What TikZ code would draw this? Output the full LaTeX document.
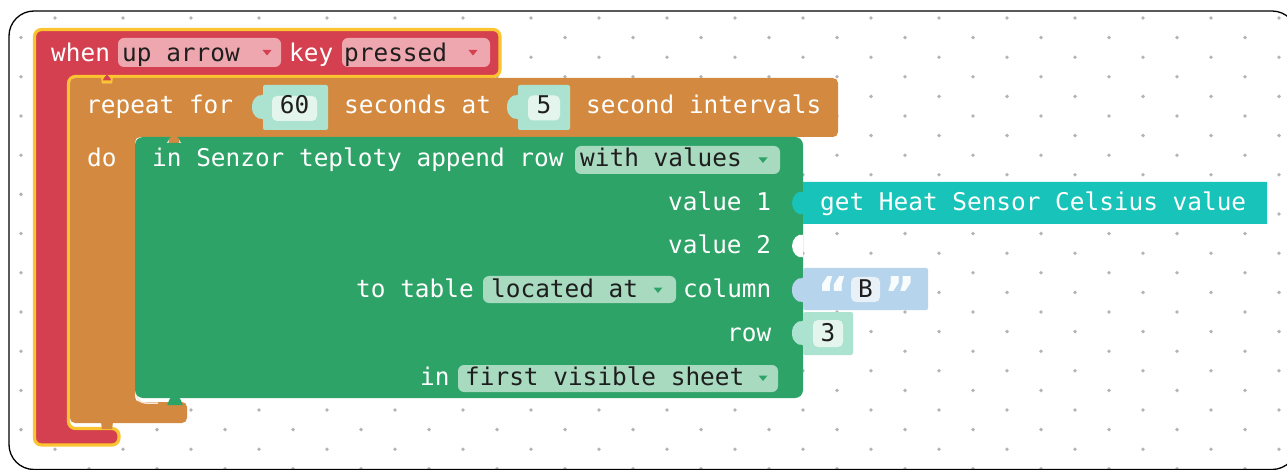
\documentclass[tikz,border=0pt]{standalone}
\usepackage{fontspec}
\newfontfamily\blockmono{DejaVu Sans Mono}
\newfontfamily\quotesans{DejaVu Sans}

\definecolor{evred}{HTML}{D4404F}
\definecolor{hilite}{HTML}{FCC430}
\definecolor{looporange}{HTML}{D38A40}
\definecolor{sheetgreen}{HTML}{2DA367}
\definecolor{pillpink}{HTML}{EFA7AF}
\definecolor{pillgreen}{HTML}{A8DAC0}
\definecolor{ink}{HTML}{1E1E1E}
\definecolor{slotmint}{HTML}{ABE3D0}
\definecolor{boxmint}{HTML}{E4F5EE}
\definecolor{sensorteal}{HTML}{18C4B9}
\definecolor{strblue}{HTML}{B6D4EC}
\definecolor{boxblue}{HTML}{E8F0F8}
\definecolor{dotgray}{HTML}{B4B4B4}

% value block with an output tab on its left edge:
% [fill options] {left} {top} {right} {bottom} {tab centre y}
\newcommand{\valblock}[6][]{%
  \fill[#1] (#2,#3) -- (#4,#3) -- (#4,#5) -- (#2,#5) -- (#2,#6+11)
    .. controls (#2-5,#6+13) and (#2-11,#6+7) .. (#2-11,#6)
    .. controls (#2-11,#6-7) and (#2-5,#6-13) .. (#2,#6-11) -- cycle;}
% an empty input socket on a block's right edge
\newcommand{\socket}[3][]{%
  \fill[#1] (#2,#3+11)
    .. controls (#2-5,#3+13) and (#2-11,#3+7) .. (#2-11,#3)
    .. controls (#2-11,#3-7) and (#2-5,#3-13) .. (#2,#3-11) -- cycle;}
% small dropdown arrow
\newcommand{\ddarrow}[3]{%
  \fill[#1] (#2-4.5,#3-2.5) -- (#2+4.5,#3-2.5) -- (#2,#3+3) -- cycle;}

\tikzset{
  lbl/.style={font=\blockmono\fontsize{24.4}{28}\selectfont, text=white,
    anchor=base west, inner sep=0pt},
  fieldtxt/.style={lbl, text=ink},
  numtxt/.style={lbl, text=ink, anchor=base},
  pill/.style={rounded corners=6pt},
  quotemark/.style={font=\quotesans\bfseries\fontsize{48}{48}\selectfont,
    text=white!92!strblue, inner sep=0pt, anchor=north},
}

\begin{document}
\begin{tikzpicture}[x=1pt,y=-1pt]
\useasboundingbox (0,0) rectangle (1287,470);
\clip (0,0) rectangle (1287,470);
\fill[white] (0,0) rectangle (1287,470);

% workspace grid
\begin{scope}
  \clip[rounded corners=25pt] (9,11) rectangle (1297,469.5);
  \foreach \j in {0,...,23}{
    \pgfmathsetmacro\yy{18+19.6*\j}
    \pgfmathsetmacro\xs{ifthenelse(mod(\j,2)==0,55,21)}
    \foreach \k in {0,...,18}{
      \fill[dotgray] (\xs+68*\k,\yy) circle (1.9pt);
    }
  }
\end{scope}
\draw[line width=1.3pt, rounded corners=25pt] (9,11) rectangle (1297,469.5);

% event block (selected)
\path[fill=evred, draw=hilite, line width=3.2pt, rounded corners=7pt]
  (34.5,29.5) -- (500,29.5) -- (500,76.5) -- (118,76.5)
  .. controls (112,76.5) and (113,82) .. (107,82)
  .. controls (101,82) and (102,76.5) .. (96,76.5)
  -- (68.5,76.5) -- (68.5,428.5) -- (119,428.5) -- (119,445) -- (34.5,445) -- cycle;

% repeat block
\path[fill=looporange, rounded corners=5pt]
  (70,78) -- (96,78) .. controls (102,78) and (101,83.5) .. (107,83.5)
  .. controls (113,83.5) and (112,78) .. (118,78)
  -- (838,78) -- (838,137) -- (185,137)
  .. controls (179,137) and (180,143) .. (174,143)
  .. controls (168,143) and (169,137) .. (163,137)
  -- (135,137) -- (135,402) -- (187,402) -- (187,423) -- (118,423)
  .. controls (112,423) and (113,429) .. (107,429)
  .. controls (101,429) and (102,423) .. (96,423)
  -- (70,423) -- cycle;
\draw[white!80!looporange, line width=1.5pt, rounded corners=9pt]
  (136.5,388) -- (136.5,403) -- (158,403);

% append-row block
\path[fill=sheetgreen, rounded corners=8pt]
  (135,137) -- (163,137) .. controls (169,137) and (168,143) .. (174,143)
  .. controls (180,143) and (179,137) .. (185,137)
  -- (803,137) -- (803,398) -- (187,398)
  .. controls (181,398) and (182,405) .. (175,405)
  .. controls (168,405) and (169,398) .. (163,398)
  -- (135,398) -- cycle;

% row 1: event header
\node[lbl] (when) at (51,61.5) {when};
\fill[pillpink, pill] (118,38) rectangle (281,67);
\node[fieldtxt] (keyname) at (122,61.5) {up arrow};
\ddarrow{evred}{267}{52.5}
\node[lbl] (key) at (289,61.5) {key};
\fill[pillpink, pill] (342,38) rectangle (490,67);
\node[fieldtxt] (keystate) at (344,61.5) {pressed};
\ddarrow{evred}{473}{52.5}

% row 2: repeat header
\node[lbl] (repeat) at (86,114) {repeat for};
\valblock[slotmint, rounded corners=2pt]{263}{85}{328}{130}{107}
\fill[boxmint, rounded corners=5pt] (272,96) rectangle (317,121);
\node[numtxt] (duration) at (294.5,114) {60};
\node[lbl] (secondsat) at (344,114) {seconds at};
\valblock[slotmint, rounded corners=2pt]{518}{85}{570}{130}{107}
\fill[boxmint, rounded corners=5pt] (528,95.5) rectangle (560,120.5);
\node[numtxt] (interval) at (544,114) {5};
\node[lbl] (intervals) at (586,114) {second intervals};

% green block rows
\node[lbl] (do) at (87,166.5) {do};
\node[lbl] (append) at (152,166.5) {in Senzor teploty append row};
\fill[pillgreen, pill] (575,146) rectangle (780,174);
\node[fieldtxt] (mode) at (580,166.5) {with values};
\ddarrow{sheetgreen}{763}{160}

\node[lbl] (value1) at (668,210.5) {value 1};
\valblock[sensorteal]{803}{182}{1267}{224}{203}
\node[lbl] (sensor) at (820,210.5) {get Heat Sensor Celsius value};

\node[lbl] (value2) at (668,254) {value 2};
\socket[white]{803}{246}

\node[lbl] (totable) at (356,297.5) {to table};
\fill[pillgreen, pill] (483,276) rectangle (676,303);
\node[fieldtxt] (located) at (491,297.5) {located at};
\ddarrow{sheetgreen}{658}{290}
\node[lbl] (column) at (683,297.5) {column};
\valblock[strblue, rounded corners=2pt]{803}{268}{928}{310}{290}
\node[quotemark] (openq) at (833,276) {“};
\fill[boxblue, rounded corners=5pt] (851,277) rectangle (880,302);
\node[numtxt] (colname) at (865.5,297.5) {B};
\node[quotemark] (closeq) at (900,276) {”};

\node[lbl] (row) at (727,341) {row};
\valblock[slotmint, rounded corners=2pt]{803}{312}{853}{355}{333}
\fill[boxmint, rounded corners=5pt] (813,320) rectangle (843,347);
\node[numtxt] (rownum) at (828,341) {3};

\node[lbl] (in) at (420,385) {in};
\fill[pillgreen, pill] (458,365) rectangle (778,392);
\node[fieldtxt] (sheet) at (465,385) {first visible sheet};
\ddarrow{sheetgreen}{763}{378}
\end{tikzpicture}
\end{document}
